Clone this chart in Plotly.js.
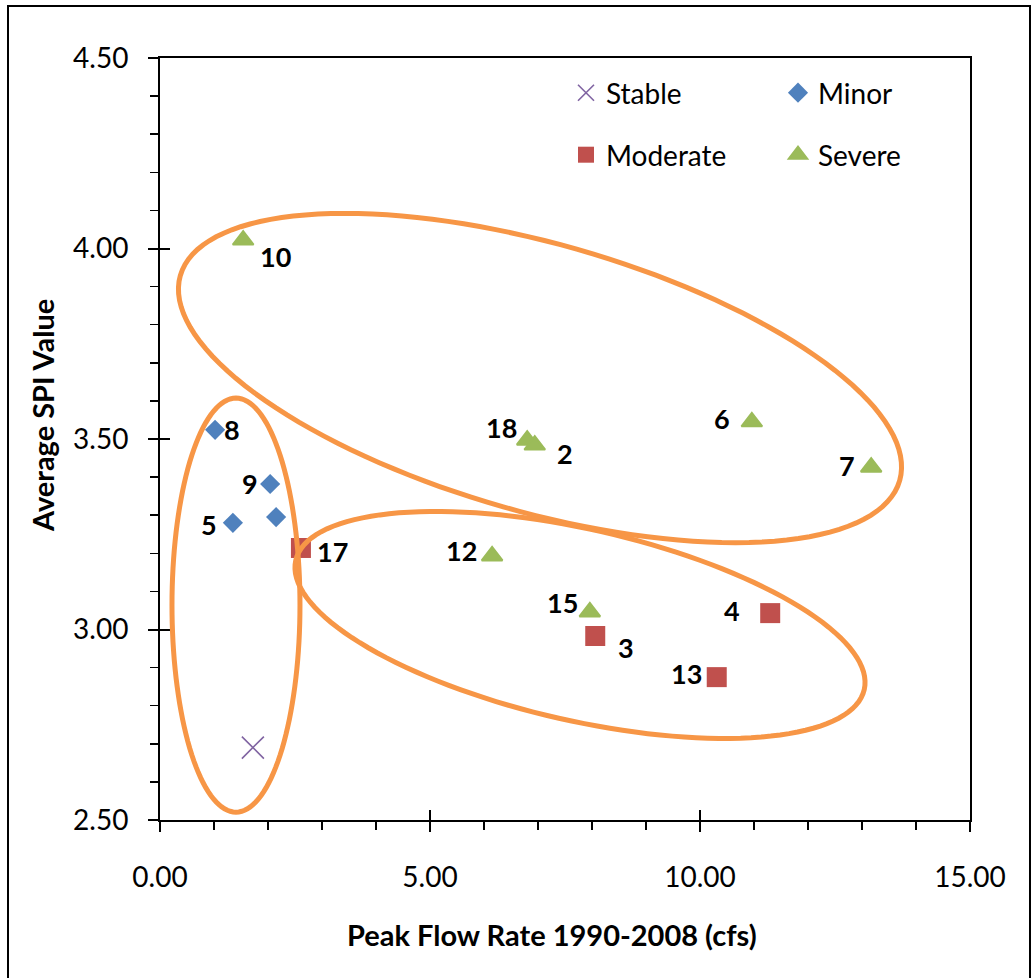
<!DOCTYPE html>
<html>
<head>
<meta charset="utf-8">
<script src="https://cdn.plot.ly/plotly-3.0.1.min.js"></script>
<style>
html,body{margin:0;padding:0;background:#fff;}
#chart{width:1033px;height:978px;}
</style>
</head>
<body>
<div id="chart"></div>
<script>
// ---- data ----
const stableX = [1.72];
const stableY = [2.69];
const stableLabels = [''];

const minorX = [1.02, 2.04, 1.35, 2.15];
const minorY = [3.524, 3.382, 3.280, 3.295];
const minorLabels = ['8', '9', '5', ''];

const moderateX = [2.61, 8.06, 11.30, 10.31];
const moderateY = [3.214, 2.983, 3.043, 2.875];
const moderateLabels = ['17', '3', '4', '13'];

const severeX = [1.54, 6.80, 6.94, 10.96, 13.17, 6.15, 7.96];
const severeY = [4.022, 3.497, 3.484, 3.545, 3.426, 3.193, 3.046];
const severeLabels = ['10', '18', '2', '6', '7', '12', '15'];

const xTitle = 'Peak Flow Rate 1990-2008 (cfs)';
const yTitle = 'Average SPI Value';

// ---- label placement (pixel offsets from marker) ----
const minorLabelOffsets = [[17, 0], [-20, 0], [-24, 2], [0, 0]];
const moderateLabelOffsets = [[32, 4], [31, 12], [-38, -3], [-30, -4]];
const severeLabelOffsets = [[32, 16], [-26, -13], [30, 8], [-30, -3], [-24, -2], [-31, -5], [-27, -9]];

// ---- layout geometry ----
const W = 1033, H = 978;
const M = {l: 160, r: 63, t: 58, b: 158};
const xRange = [0, 15], yRange = [2.5, 4.5];
const plotW = W - M.l - M.r, plotH = H - M.t - M.b;
const pxPerX = plotW / (xRange[1] - xRange[0]);
const pxPerY = plotH / (yRange[1] - yRange[0]);

// highlight ellipses: centre in data units, semi-axes in px, rotation in degrees (screen)
const ellipses = [
  {cx: 1.407, cy: 3.064, a: 64, b: 207, rot: 0},
  {cx: 7.037, cy: 3.660, a: 374, b: 134, rot: 15.9},
  {cx: 7.778, cy: 3.012, a: 291.5, b: 95.7, rot: 12.8}
];

function ellipsePath(e) {
  const th = e.rot * Math.PI / 180, N = 140;
  let p = '';
  for (let i = 0; i <= N; i++) {
    const t = 2 * Math.PI * i / N;
    const ox = e.a * Math.cos(t) * Math.cos(th) - e.b * Math.sin(t) * Math.sin(th);
    const oy = e.a * Math.cos(t) * Math.sin(th) + e.b * Math.sin(t) * Math.cos(th);
    const x = e.cx + ox / pxPerX;
    const y = e.cy - oy / pxPerY;
    p += (i === 0 ? 'M' : 'L') + x.toFixed(5) + ',' + y.toFixed(5);
  }
  return p + 'Z';
}

const FONT = 'Lato, "Open Sans", sans-serif';
const colStable = '#8064A2', colMinor = '#4F81BD', colModerate = '#C0504D', colSevere = '#9BBB59';

const traces = [
  {type: 'scatter', mode: 'markers', name: 'Stable', x: stableX, y: stableY, legend: 'legend',
   marker: {symbol: 'x-thin-open', size: 22, color: colStable, line: {color: colStable, width: 1.6}}, hoverinfo: 'x+y'},
  {type: 'scatter', mode: 'markers', name: 'Minor', x: minorX, y: minorY, legend: 'legend2',
   marker: {symbol: 'diamond', size: 15.5, color: colMinor}, hoverinfo: 'x+y'},
  {type: 'scatter', mode: 'markers', name: 'Moderate', x: moderateX, y: moderateY, legend: 'legend3',
   marker: {symbol: 'square', size: 20, color: colModerate}, hoverinfo: 'x+y'},
  {type: 'scatter', mode: 'markers', name: 'Severe', x: severeX, y: severeY, legend: 'legend4',
   marker: {symbol: 'triangle-up', size: 18, color: colSevere, line: {color: colSevere, width: 2}}, hoverinfo: 'x+y'},
  {type: 'scatter', mode: 'markers', x: [null], y: [null], xaxis: 'x2', yaxis: 'y2', showlegend: false, hoverinfo: 'skip'}
];

const annotations = [];
function addLabels(xs, ys, labels, offs) {
  for (let i = 0; i < xs.length; i++) {
    if (!labels[i]) continue;
    annotations.push({
      x: xs[i], y: ys[i], xref: 'x', yref: 'y', text: labels[i], showarrow: false,
      xanchor: 'center', yanchor: 'middle', xshift: offs[i][0], yshift: -offs[i][1],
      font: {family: FONT, size: 27, color: '#000', weight: 'bold'}
    });
  }
}
addLabels(minorX, minorY, minorLabels, minorLabelOffsets);
addLabels(moderateX, moderateY, moderateLabels, moderateLabelOffsets);
addLabels(severeX, severeY, severeLabels, severeLabelOffsets);

// axis titles
function px2paperX(px) { return (px - M.l) / plotW; }
function px2paperY(py) { return (H - M.b - py) / plotH; }
annotations.push({
  xref: 'paper', yref: 'paper', x: px2paperX(552), y: px2paperY(934), text: xTitle, showarrow: false,
  xanchor: 'center', yanchor: 'middle', font: {family: FONT, size: 29, color: '#000', weight: 'bold'}
});
annotations.push({
  xref: 'paper', yref: 'paper', x: px2paperX(42), y: px2paperY(416), text: yTitle, showarrow: false,
  textangle: -90, xanchor: 'center', yanchor: 'middle', font: {family: FONT, size: 29, color: '#000', weight: 'bold'}
});

const shapes = ellipses.map(e => ({
  type: 'path', xref: 'x', yref: 'y', path: ellipsePath(e),
  line: {color: '#F79646', width: 5}, fillcolor: 'rgba(0,0,0,0)', layer: 'above'
}));
// outer chart frame
shapes.push({type: 'rect', xref: 'paper', yref: 'paper',
  x0: px2paperX(8), x1: px2paperX(1030), y0: px2paperY(995), y1: px2paperY(6),
  line: {color: '#000', width: 2}, fillcolor: 'rgba(0,0,0,0)', layer: 'below'});

const legBase = {xanchor: 'left', yanchor: 'middle', bgcolor: 'rgba(0,0,0,0)', borderwidth: 0,
  font: {family: FONT, size: 28, color: '#000'}, orientation: 'v'};

const axisCommon = {showgrid: false, zeroline: false, showline: true, linecolor: '#000', linewidth: 2,
  mirror: true, ticks: 'outside', ticklen: 10, tickwidth: 2, tickcolor: '#000',
  tickfont: {family: FONT, size: 28, color: '#000'}, tickformat: '.2f'};

const layout = {
  width: W, height: H, margin: M, paper_bgcolor: '#fff', plot_bgcolor: '#fff',
  showlegend: true,
  xaxis: Object.assign({}, axisCommon, {range: xRange, tick0: 0, dtick: 5, ticklabelstandoff: 21,
    minor: {dtick: 1, ticks: 'outside', ticklen: 8, tickwidth: 1.5, tickcolor: '#000', showgrid: false}}),
  yaxis: Object.assign({}, axisCommon, {range: yRange, tick0: 2.5, dtick: 0.5, ticklabelstandoff: 14,
    minor: {dtick: 0.1, ticks: 'outside', ticklen: 8, tickwidth: 1.5, tickcolor: '#000', showgrid: false}}),
  xaxis2: {overlaying: 'x', anchor: 'y2', side: 'bottom', range: xRange, tick0: 0, dtick: 5, ticks: 'inside',
    ticklen: 10, tickwidth: 2, tickcolor: '#000', showticklabels: false, showgrid: false, zeroline: false, showline: false},
  yaxis2: {overlaying: 'y', anchor: 'x2', side: 'left', range: yRange, tick0: 2.5, dtick: 0.5, ticks: 'inside',
    ticklen: 10, tickwidth: 2, tickcolor: '#000', showticklabels: false, showgrid: false, zeroline: false, showline: false},
  legend: Object.assign({}, legBase, {x: px2paperX(566), y: px2paperY(93)}),
  legend2: Object.assign({}, legBase, {x: px2paperX(778), y: px2paperY(93)}),
  legend3: Object.assign({}, legBase, {x: px2paperX(566), y: px2paperY(155)}),
  legend4: Object.assign({}, legBase, {x: px2paperX(778), y: px2paperY(155)}),
  annotations: annotations,
  shapes: shapes
};

Plotly.newPlot('chart', traces, layout, {displayModeBar: false, staticPlot: true});
</script>
</body>
</html>
